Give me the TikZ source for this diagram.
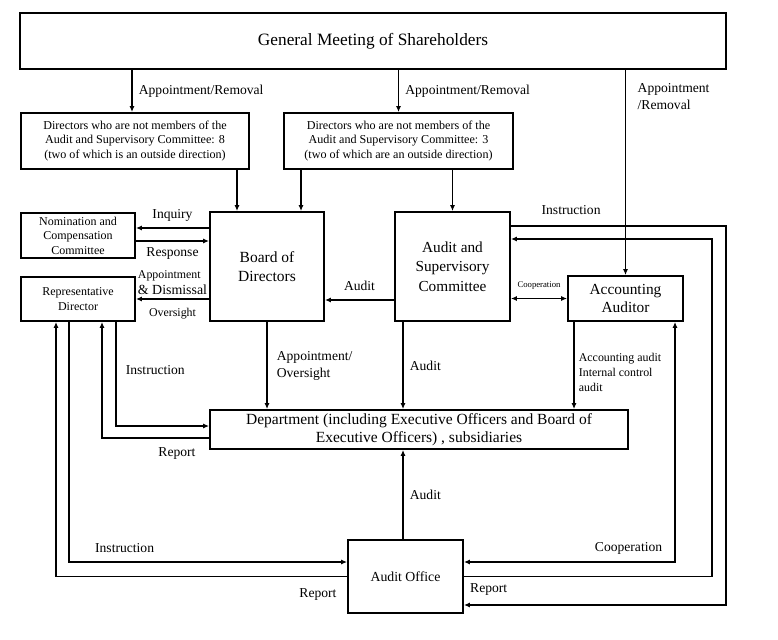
\documentclass[tikz,border=0pt]{standalone}
\usepackage{fontspec}
\setmainfont{Liberation Serif}
\usetikzlibrary{arrows.meta,calc}
\newcommand{\setfs}[2]{\fontsize{#1}{#2}\selectfont}
\begin{document}
\begin{tikzpicture}[x=1pt,y=-1pt,
        box/.style={draw,line width=1.8pt,inner sep=0pt,align=center},
        lbl/.style={inner sep=1pt,font=\setfs{13.6}{17}},
        arr/.style={line width=1.7pt,-{Latex[length=6pt,width=5pt]}},
        arrboth/.style={line width=1.7pt,{Latex[length=6pt,width=5pt]}-{Latex[length=6pt,width=5pt]}}]
                \useasboundingbox (0,0) rectangle (778,639);
                \node[box,minimum width=706pt,minimum height=56pt,font=\setfs{17.3}{20}](gms) at (373,41){General Meeting of Shareholders};
                \node[box,minimum width=228pt,minimum height=56pt,font=\setfs{12.1}{14.5}](dir8) at (135,141){Directors who are not members of the\\Audit and Supervisory Committee: 8\\(two of which is an outside direction)};
                \node[box,minimum width=229pt,minimum height=56pt,font=\setfs{12.1}{14.5}](dir3) at (398.5,141){Directors who are not members of the\\Audit and Supervisory Committee: 3\\(two of which are an outside direction)};
                \node[box,minimum width=114pt,minimum height=109pt,font=\setfs{15.5}{19}](board) at (267,266.5){Board of\\Directors};
                \node[box,minimum width=115pt,minimum height=109pt,font=\setfs{15.3}{19.5}](asc) at (452.5,266.5){Audit and\\Supervisory\\Committee};
                \node[box,minimum width=114pt,minimum height=45pt,font=\setfs{12}{14.5}](nomcomp) at (78,235.5){Nomination and\\Compensation\\Committee};
                \node[box,minimum width=114pt,minimum height=44pt,font=\setfs{12}{15}](repdir) at (78,299){Representative\\Director};
                \node[box,minimum width=115pt,minimum height=45pt,font=\setfs{15.4}{18}](accaud) at (625.5,298.5){Accounting\\Auditor};
                \node[box,minimum width=418pt,minimum height=39pt,font=\setfs{15.5}{18}](dept) at (419,429.5){Department (including Executive Officers and Board of\\Executive Officers) , subsidiaries};
                \node[box,minimum width=115pt,minimum height=73pt,font=\setfs{13.8}{16}](aoffice) at (405.5,576.5){Audit Office};
                \coordinate (t1) at ([xshift=-3pt]dir8.north);
                \coordinate (b1) at ([xshift=-30pt]board.north);
                \coordinate (b2) at ([xshift=34pt]board.north);
                \coordinate (i1) at ([yshift=7.5pt]nomcomp.east);
                \coordinate (i2) at ([yshift=-5.5pt]nomcomp.east);
                \coordinate (a1) at ([yshift=-33.5pt]board.east);
                \coordinate (c1) at ([xshift=-49.5pt]asc.south);
                \coordinate (c2) at ([xshift=-51.5pt]accaud.south);
                \coordinate (c3) at ([xshift=49.5pt]accaud.south);
                \coordinate (rx) at ([xshift=28pt]accaud.east);
                \coordinate (ix) at ([xshift=42pt]accaud.east);
                \coordinate (r1) at ([yshift=27.5pt]asc.east);
                \coordinate (s1) at ([yshift=40.5pt]asc.east);
                \coordinate (e1) at ([yshift=-28.5pt]aoffice.east);
                \coordinate (e2) at ([yshift=14.5pt]aoffice.west);
                \coordinate (e3) at ([yshift=14.5pt]aoffice.east);
                \coordinate (d1) at ([xshift=38pt]repdir.south);
                \coordinate (d2) at ([yshift=3.5pt]dept.west);
                \coordinate (d3) at ([yshift=-8.5pt]dept.west);
                \coordinate (d4) at ([xshift=24pt]repdir.south);
                \coordinate (d5) at ([xshift=-9pt]repdir.south);
                \coordinate (d6) at ([xshift=-22pt]repdir.south);
                \draw[arr](gms.south -| t1) -- node[lbl,right=5pt](lar1){Appointment/Removal} (t1);
                \draw[arr](gms.south -| dir3.north) -- node[lbl,right=5pt](lar2){Appointment/Removal} (dir3.north);
                \draw[arr](gms.south -| accaud.north) -- (accaud.north);
                \node[lbl,align=left,anchor=north west](lar3) at ([xshift=11pt,yshift=-12pt]gms.south -| accaud.north){Appointment\\/Removal};
                \draw[arr](dir8.south -| b1) -- (b1);
                \draw[arr](dir3.south -| b2) -- (b2);
                \draw[arr](dir3.south -| asc.north) -- (asc.north);
                \draw[arr](board.west |- i1) -- node[lbl,above=5pt](linq){Inquiry} (i1);
                \draw[arr](i2) -- node[lbl,below=5pt](lres){Response} (board.west |- i2);
                \draw[arr](board.west |- repdir.east) -- node[lbl,above=3pt,align=left](lapp){{\setfs{11.9}{14}Appointment}\\[-1pt]\setfs{13.9}{16}\& Dismissal} node[lbl,below=7pt,font=\setfs{11.9}{14}](lovs){Oversight} (repdir.east);
                \draw[arr](asc.west |- a1) -- node[lbl,above=8pt](laud1){Audit} (a1);
                \draw[arrboth](asc.east |- accaud.west) -- node[lbl,above=7pt,font=\setfs{8.7}{10}](lcoop1){Cooperation} (accaud.west);
                \draw[arr](board.south) -- node[lbl,right=8pt,align=left](lapo){Appointment/\\Oversight} (board.south |- dept.north);
                \draw[arr](c1) -- node[lbl,right=5pt](laud2){Audit} (c1 |- dept.north);
                \draw[arr](c2) -- node[lbl,right=3pt,pos=0.58,align=left,font=\setfs{11.9}{15}](lacca){Accounting audit\\Internal control\\audit} (c2 |- dept.north);
                \draw[arrboth](c3) |- node[lbl,above=6pt,pos=0.61](lcoop2){Cooperation} (e3);
                \draw[arr](aoffice.east) -- node[lbl,below=5pt,pos=0.1](lrep3){Report} (aoffice.east -| rx) |- (r1);
                \draw[arr](s1) -- node[lbl,above=10pt,pos=0.28](lins1){Instruction} (s1 -| ix) -- (ix |- e1) -- (e1);
                \draw[arr](aoffice.north -| c1) -- node[lbl,right=5pt](laud3){Audit} (dept.south -| c1);
                \draw[arr](d1) |- node[lbl,right=8pt,pos=0.23](lins2){Instruction} (d2);
                \draw[arr](d3) -| node[lbl,below=8pt,pos=0.15](lrep1){Report} (d4);
                \draw[arr](d5) |- node[lbl,above=8pt,pos=0.6](lins3){Instruction} (e2);
                \draw[arr](aoffice.west) -| node[lbl,below=10pt,pos=0.05](lrep2){Report} (d6);
            \end{tikzpicture}
\end{document}
